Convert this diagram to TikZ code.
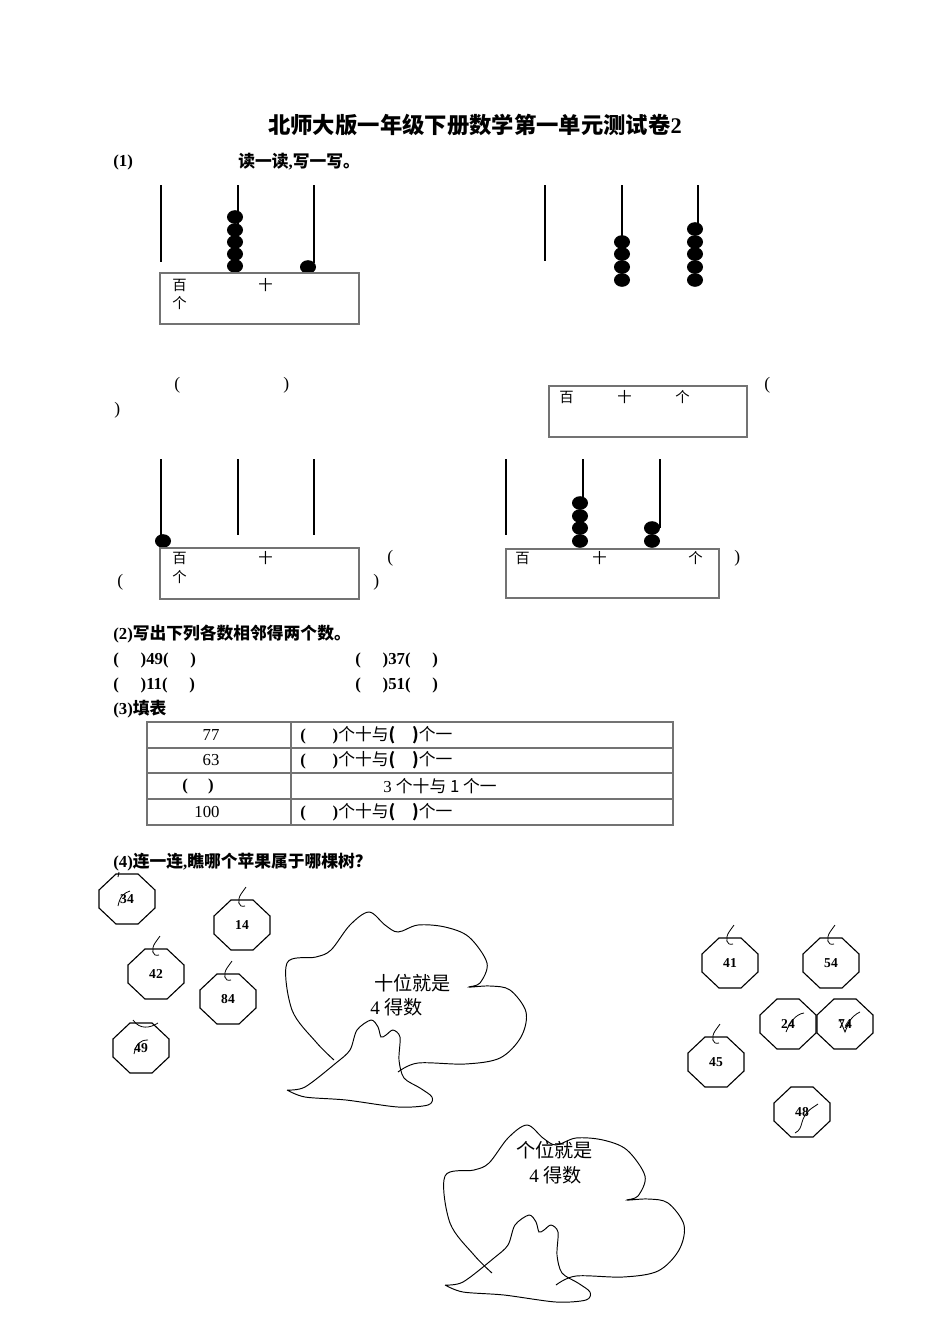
\documentclass[tikz,border=0pt]{standalone}
\usepackage{fontspec}
\setmainfont{Liberation Serif}
\newfontfamily\cjk{Noto Sans CJK SC}
\newfontfamily\latn{Liberation Serif}
\XeTeXinterchartokenstate=1
\newXeTeXintercharclass\CJKcls
\count255="4E00
\loop\XeTeXcharclass\count255=\CJKcls\ifnum\count255<"9FFF\advance\count255 by 1\repeat
\count255="3000
\loop\XeTeXcharclass\count255=\CJKcls\ifnum\count255<"303F\advance\count255 by 1\repeat
\count255="FF00
\loop\XeTeXcharclass\count255=\CJKcls\ifnum\count255<"FFEF\advance\count255 by 1\repeat
\XeTeXinterchartoks 0 \CJKcls = {\cjk}
\XeTeXinterchartoks 4095 \CJKcls = {\cjk}
\XeTeXinterchartoks \CJKcls 0 = {\latn}
\usetikzlibrary{shapes.geometric}
\definecolor{ln}{gray}{0.45}
\tikzset{
 txt/.style={inner sep=0pt,anchor=west,font=\fontsize{10.5}{12}\selectfont\bfseries},
 lab/.style={inner sep=0pt,anchor=west,font=\fontsize{9}{10}\selectfont},
 par/.style={inner sep=0pt,anchor=west,font=\fontsize{11}{12}\selectfont},
 tcell/.style={inner sep=0pt,font=\fontsize{10.5}{12}\selectfont},
 rod/.style={line width=1.1pt},
 bx/.style={draw=ln,line width=0.7pt},
 anum/.style={inner sep=0pt,font=\fontsize{8.5}{10}\selectfont\bfseries},
 tree/.style={line width=0.6pt},
 ttxt/.style={inner sep=0pt,anchor=west,font=\fontsize{12}{14}\selectfont}
}
\newcommand{\bead}[2]{\fill (#1,#2) ellipse (8 and 6.8);}
\newcommand{\apple}[4]{%
 \draw[line width=0.7pt] (#1-11,#2-25) -- (#1+11,#2-25) -- (#1+28,#2-9) -- (#1+28,#2+9) -- (#1+11,#2+25) -- (#1-11,#2+25) -- (#1-28,#2+9) -- (#1-28,#2-9) -- cycle;
 \node[anum] (#4) at (#1,#2) {#3};}
% stem: x, y of apple top
\newcommand{\stem}[2]{\draw[line width=0.5pt] (#1+3,#2+6) .. controls (#1-4,#2+8) and (#1-5,#2) .. (#1-1,#2-6) .. controls (#1+1,#2-10) .. (#1+4,#2-13);}
\begin{document}
\begin{tikzpicture}[x=0.6264pt,y=-0.6264pt]
\useasboundingbox (0,0) rectangle (950,1344);
\node[inner sep=0pt,font=\fontsize{14}{16}\selectfont\bfseries] (title) at (475,125) {北师大版一年级下册数学第一单元测试卷2};
\node[txt] (q1) at (113,162) {(1)};
\node[txt] (q1t) at (238,162) {读一读,写一写。};
% abacus 1
\draw[rod] (161,185) -- (161,262) (238,185) -- (238,262) (314,185) -- (314,263);
\foreach \y in {217,230,242,254,266} {\bead{235}{\y}}
\bead{308}{267}
\draw[bx] (160,273) rectangle (359,324);
\node[lab] (b1a) at (172,285) {百}; \node[lab] (b1b) at (258,285) {十}; \node[lab] (b1c) at (172,303) {个};
% abacus 2
\draw[rod] (545,185) -- (545,261) (622,185) -- (622,242) (698,185) -- (698,229);
\foreach \y in {242,254,267,280} {\bead{622}{\y}}
\foreach \y in {229,242,254,267,280} {\bead{695}{\y}}
\node[par] (p1) at (174,385) {(}; \node[par] (p2) at (283,385) {)}; \node[par] (p3) at (114,410) {)};
\draw[bx] (549,386) rectangle (747,437);
\node[lab] (b2a) at (559,397) {百}; \node[lab] (b2b) at (617,397) {十}; \node[lab] (b2c) at (675,397) {个};
\node[par] (p4) at (764,385) {(};
% abacus 3
\draw[rod] (161,459) -- (161,540) (238,459) -- (238,535) (314,459) -- (314,535);
\bead{163}{541}
\draw[bx] (160,548) rectangle (359,599);
\node[lab] (b3a) at (172,558) {百}; \node[lab] (b3b) at (258,558) {十}; \node[lab] (b3c) at (172,577) {个};
\node[par] (p5) at (387,558) {(}; \node[par] (p6) at (117,582) {(}; \node[par] (p7) at (373,582) {)};
% abacus 4
\draw[rod] (506,459) -- (506,535) (583,459) -- (583,503) (660,459) -- (660,528);
\foreach \y in {503,516,528,541} {\bead{580}{\y}}
\foreach \y in {528,541} {\bead{652}{\y}}
\draw[bx] (506,549) rectangle (719,598);
\node[lab] (b4a) at (515,558) {百}; \node[lab] (b4b) at (592,558) {十}; \node[lab] (b4c) at (688,558) {个};
\node[par] (p8) at (734,558) {)};
% (2)
\node[txt] (q2) at (113,634) {(2)写出下列各数相邻得两个数。};
\node[txt] (r1a) at (113,660) {(\hspace{1.3em})49(\hspace{1.3em})};
\node[txt] (r1b) at (355,660) {(\hspace{1.3em})37(\hspace{1.3em})};
\node[txt] (r2a) at (113,685) {(\hspace{1.3em})11(\hspace{1.3em})};
\node[txt] (r2b) at (355,685) {(\hspace{1.3em})51(\hspace{1.3em})};
\node[txt] (q3) at (113,709) {(3)填表};
% table
\draw[bx] (147,722) rectangle (673,825);
\foreach \y in {748,773,799} {\draw[bx] (147,\y) -- (673,\y);}
\draw[bx] (291,722) -- (291,825);
\node[tcell] (c11) at (211,735) {77};
\node[tcell] (c21) at (211,760) {63};
\node[tcell,font=\fontsize{10.5}{12}\selectfont\bfseries] (c31) at (198,786) {(\hspace{1.2em})};
\node[tcell] (c41) at (207,812) {100};
\node[tcell,anchor=west] (c12) at (300,735) {\textbf{(\hspace{1.6em})}个十与\textbf{(\hspace{1em})}个一};
\node[tcell,anchor=west] (c22) at (300,760) {\textbf{(\hspace{1.6em})}个十与\textbf{(\hspace{1em})}个一};
\node[tcell] (c32) at (440,786) {3 个十与 1 个一};
\node[tcell,anchor=west] (c42) at (300,812) {\textbf{(\hspace{1.6em})}个十与\textbf{(\hspace{1em})}个一};
% (4)
\node[txt] (q4) at (113,862) {(4)连一连,瞧哪个苹果属于哪棵树？};
\apple{127}{899}{34}{a34} \draw[line width=0.5pt] (118,906) .. controls (120,896) and (124,893) .. (130,891);
\draw[line width=0.5pt] (118,877) -- (119,872);
\apple{242}{925}{14}{a14} \stem{242}{900}
\apple{156}{974}{42}{a42} \stem{156}{949}
\apple{228}{999}{84}{a84} \stem{228}{974}
\apple{141}{1048}{49}{a49} \draw[line width=0.5pt] (134,1054) .. controls (136,1044) and (140,1040) .. (148,1040);
\draw[line width=0.5pt] (133,1020) .. controls (140,1030) and (150,1028) .. (158,1023);
\apple{730}{963}{41}{a41} \stem{730}{938}
\apple{831}{963}{54}{a54} \stem{831}{938}
\apple{788}{1024}{24}{a24} \draw[line width=0.5pt] (786,1032) .. controls (790,1022) and (796,1014) .. (804,1013);
\apple{845}{1024}{74}{a74} \draw[line width=0.5pt] (840,1020) -- (845,1032) -- (850,1020) (845,1028) .. controls (852,1016) and (856,1014) .. (860,1012);
\apple{716}{1062}{45}{a45} \stem{716}{1037}
\apple{802}{1112}{48}{a48}
\draw[line width=0.5pt] (795,1133) .. controls (805,1128) and (798,1118) .. (812,1108) .. controls (815,1106) .. (818,1104);
% trees
\foreach \dx/\dy/\ty in {0/0/0,158/213/195} {
\begin{scope}[shift={(\dx,\dy)}]
\draw[tree] plot[smooth,tension=0.55] coordinates {(334,1060) (316,1042) (292,1010) (287,963) (316,957) (331,950) (350,925) (369,912) (385,925) (398,932) (418,925) (445,927) (469,937) (487,963) (480,983) (469,987) (490,986) (510,990) (526,1012) (521,1037) (500,1058) (465,1064) (418,1063) (398,1072)};
\end{scope}
\begin{scope}[shift={(\dx,\ty)}]
\draw[tree] plot[smooth,tension=0.5] coordinates {(287,1090) (305,1087) (336,1063) (350,1050) (357,1030) (371,1020) (378,1027) (381,1037) (386,1035) (393,1030) (400,1037) (399,1060) (404,1078) (420,1088) (432,1097) (428,1105) (398,1107) (346,1100) (305,1097) (287,1090)};
\end{scope}}
\node[ttxt] (t1a) at (374,983) {十位就是};
\node[ttxt] (t1b) at (370,1007) {4 得数};
\node[ttxt] (t2a) at (516,1150) {个位就是};
\node[ttxt] (t2b) at (529,1175) {4 得数};
\end{tikzpicture}
\end{document}
